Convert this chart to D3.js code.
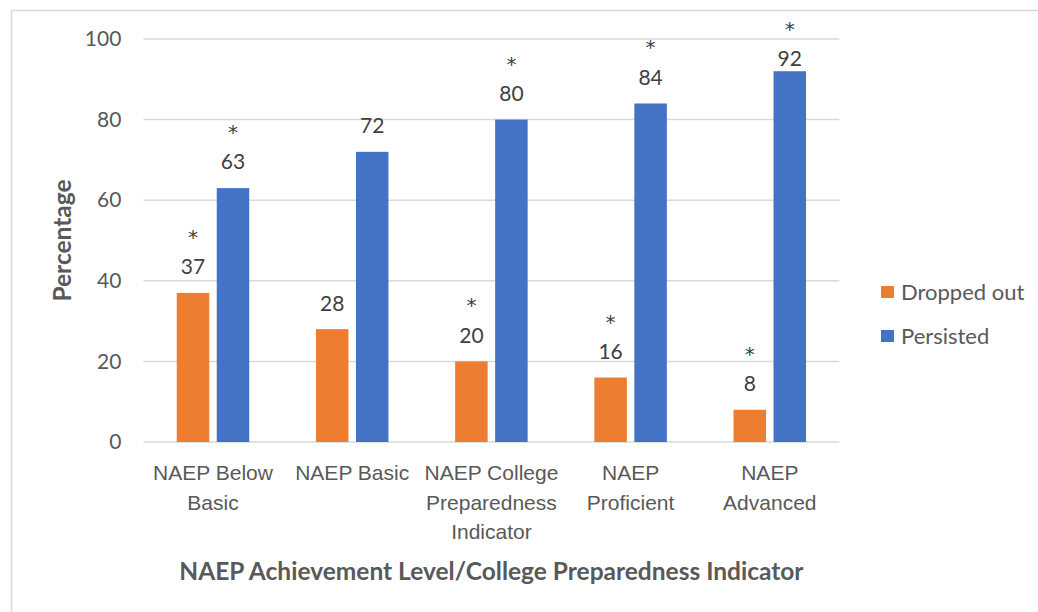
<!DOCTYPE html>
<html>
<head>
<meta charset="utf-8">
<script src="https://cdn.jsdelivr.net/npm/d3@7"></script>
<style>
  body { margin: 0; background: #fff; }
  svg { display: block; font-family: Lato, "Open Sans", sans-serif; }
</style>
</head>
<body>
<div id="chart"></div>
<script>
const categories = ['NAEP Below Basic', 'NAEP Basic', 'NAEP College Preparedness Indicator', 'NAEP Proficient', 'NAEP Advanced'];
const categoryLines = [['NAEP Below', 'Basic'], ['NAEP Basic'], ['NAEP College', 'Preparedness', 'Indicator'], ['NAEP', 'Proficient'], ['NAEP', 'Advanced']];
const seriesNames = ['Dropped out', 'Persisted'];
const seriesColors = ['#ED7D31', '#4472C4'];
const droppedOut = [37, 28, 20, 16, 8];
const persisted = [63, 72, 80, 84, 92];
const droppedSig = [true, false, true, true, true];
const persistedSig = [true, false, true, true, true];
const yTicks = [0, 20, 40, 60, 80, 100];

const width = 1038, height = 612;
const margin = { top: 39, right: 198.6, bottom: 170, left: 143.4 };
const plotW = width - margin.left - margin.right;
const plotH = height - margin.top - margin.bottom;

const svg = d3.select('#chart').append('svg')
  .attr('width', width)
  .attr('height', height);

// outer chart border
svg.append('rect')
  .attr('x', 11.5).attr('y', 10.5)
  .attr('width', 1040).attr('height', 620)
  .attr('fill', 'none')
  .attr('stroke', '#d9d9d9')
  .attr('stroke-width', 1.5);

const g = svg.append('g')
  .attr('transform', `translate(${margin.left},${margin.top})`);

const x = d3.scaleBand().domain(categories).range([0, plotW]);
const xs = d3.scaleBand().domain(seriesNames).range([0, x.bandwidth()])
  .paddingInner(0.1875).paddingOuter(0.834);
const y = d3.scaleLinear().domain([0, 100]).range([plotH, 0]);

// gridlines
g.append('g')
  .selectAll('line')
  .data(yTicks)
  .enter().append('line')
  .attr('x1', 0).attr('x2', plotW)
  .attr('y1', d => y(d)).attr('y2', d => y(d))
  .attr('stroke', '#d9d9d9')
  .attr('stroke-width', 1.5);

// y axis
const yAxis = g.append('g')
  .call(d3.axisLeft(y).tickValues(yTicks).tickSize(0).tickPadding(22));
yAxis.select('.domain').remove();
yAxis.selectAll('text')
  .style('font-size', '21px')
  .style('font-family', 'Lato, sans-serif')
  .attr('fill', '#595959');

// x axis
const xAxis = g.append('g')
  .attr('transform', `translate(0,${plotH})`)
  .call(d3.axisBottom(x).tickSize(0).tickFormat(''));
xAxis.select('.domain').remove();
xAxis.selectAll('.tick text').remove();
xAxis.selectAll('.tick').each(function(d, i) {
  const t = d3.select(this).append('text')
    .attr('text-anchor', 'middle')
    .attr('fill', '#595959')
    .style('font-size', '21px')
    .attr('y', 38);
  categoryLines[i].forEach((line, j) => {
    t.append('tspan').attr('x', 0).attr('dy', j === 0 ? 0 : 29.5).text(line);
  });
});

// bars
const series = [
  { name: seriesNames[0], values: droppedOut, sig: droppedSig, color: seriesColors[0] },
  { name: seriesNames[1], values: persisted, sig: persistedSig, color: seriesColors[1] }
];

series.forEach(s => {
  const data = categories.map((c, i) => ({ cat: c, value: s.values[i], sig: s.sig[i] }));
  const sg = g.append('g');

  sg.selectAll('rect')
    .data(data)
    .enter().append('rect')
    .attr('x', d => x(d.cat) + xs(s.name))
    .attr('width', xs.bandwidth())
    .attr('y', d => y(d.value))
    .attr('height', d => plotH - y(d.value))
    .attr('fill', s.color);

  // value labels, kept inside plot area like the original
  const labelY = d => Math.max(y(d.value) - 26, 20);
  sg.selectAll('.val')
    .data(data)
    .enter().append('text')
    .attr('class', 'val')
    .attr('x', d => x(d.cat) + xs(s.name) + xs.bandwidth() / 2)
    .attr('y', labelY)
    .attr('dy', '0.35em')
    .attr('text-anchor', 'middle')
    .attr('fill', '#404040')
    .style('font-size', '21px')
    .text(d => d.value);

  // significance marks
  sg.selectAll('.sig')
    .data(data.filter(d => d.sig))
    .enter().append('text')
    .attr('class', 'sig')
    .attr('x', d => x(d.cat) + xs(s.name) + xs.bandwidth() / 2)
    .attr('y', d => labelY(d) - 34 + 11)
    .attr('text-anchor', 'middle')
    .attr('fill', '#404040')
    .style('font-family', '"DejaVu Sans", sans-serif')
    .style('font-size', '20px')
    .text('*');
});

// axis titles
svg.append('text')
  .attr('transform', `translate(71,${margin.top + plotH / 2}) rotate(-90)`)
  .attr('text-anchor', 'middle')
  .attr('fill', '#595959')
  .style('font-size', '24.5px')
  .style('font-weight', 'bold')
  .text('Percentage');

svg.append('text')
  .attr('x', margin.left + plotW / 2)
  .attr('y', 580)
  .attr('text-anchor', 'middle')
  .attr('fill', '#595959')
  .style('font-size', '24.5px')
  .style('font-weight', 'bold')
  .text('NAEP Achievement Level/College Preparedness Indicator');

// legend
const legend = svg.append('g').attr('transform', 'translate(881,292)');
seriesNames.forEach((name, i) => {
  const row = legend.append('g').attr('transform', `translate(0,${i * 44})`);
  row.append('rect')
    .attr('x', 0).attr('y', -6)
    .attr('width', 13).attr('height', 12)
    .attr('fill', seriesColors[i]);
  row.append('text')
    .attr('x', 20).attr('y', 0)
    .attr('dy', '0.35em')
    .attr('fill', '#595959')
    .style('font-size', '22px')
    .text(name);
});
</script>
</body>
</html>
